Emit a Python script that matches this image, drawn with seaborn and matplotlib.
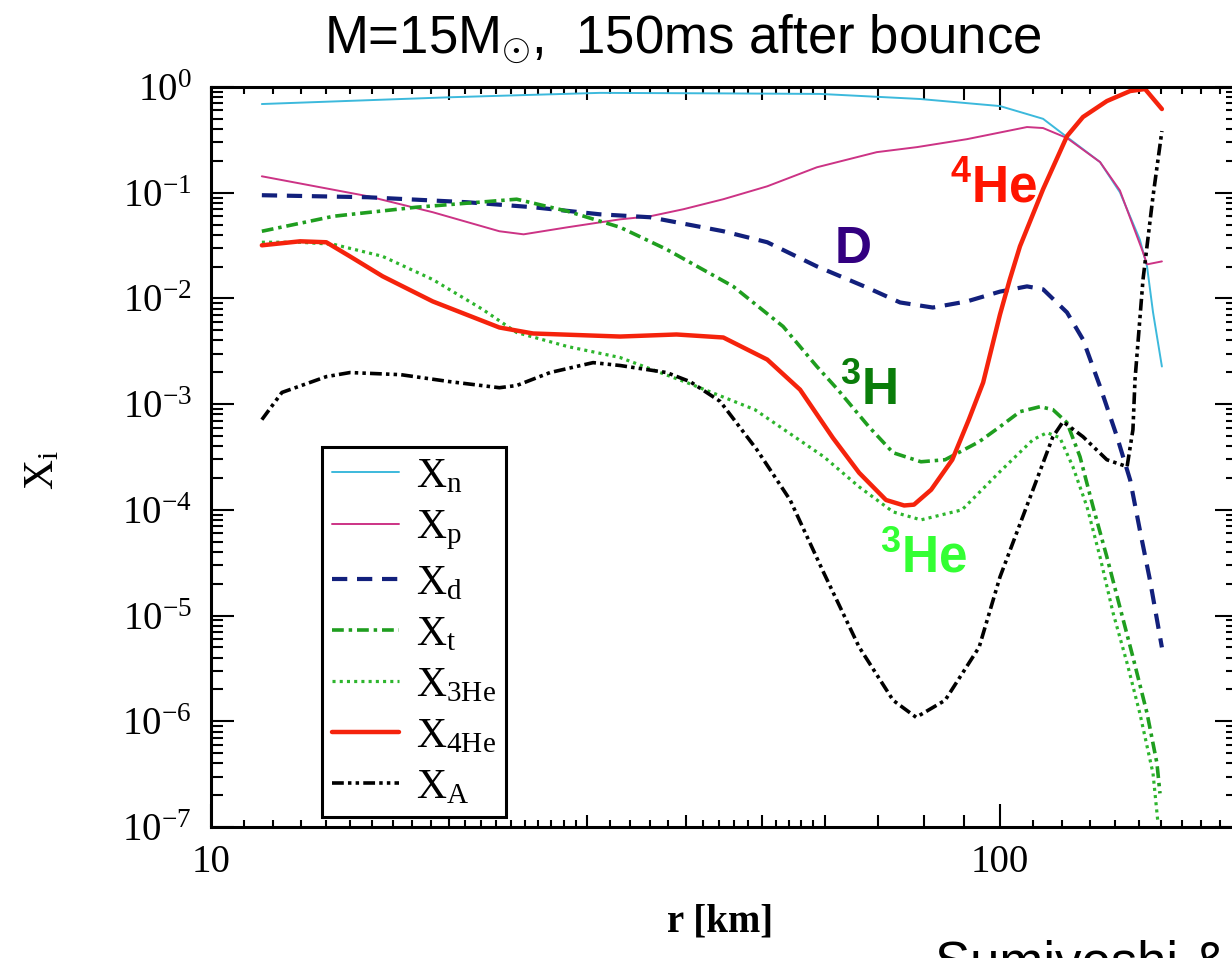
import pandas as pd
import matplotlib
matplotlib.use('Agg')
import matplotlib.pyplot as plt
import matplotlib.ticker as mticker
import seaborn as sns

# ---- mass fractions vs radius (r in km) ----
r_n = [11.6, 20.1, 31.1, 44.6, 59.2, 79.2, 100, 113.4, 121.6, 133.9, 141.9, 150.4, 153.6, 156.3, 160.4]
X_n = [0.69, 0.80, 0.88, 0.87, 0.86, 0.77, 0.66, 0.50, 0.336, 0.195, 0.101, 0.036, 0.020, 0.0074, 0.00227]

r_p = [11.6, 15.8, 19.1, 23.2, 24.9, 28.3, 33.0, 36.0, 39.7, 44.6, 50.7, 58.6, 69.8, 78.5, 90.8,
       108.2, 113.4, 121.6, 133.9, 141.9, 151.8, 153.6, 160.4]
X_p = [0.143, 0.0927, 0.0654, 0.0432, 0.0404, 0.0471, 0.056, 0.0598, 0.0698, 0.0868, 0.115, 0.174,
       0.242, 0.27, 0.321, 0.418, 0.409, 0.329, 0.195, 0.105, 0.0273, 0.021, 0.0224]

r_d = [11.6, 15.8, 21.1, 25.6, 31.1, 36.0, 44.6, 50.7, 58.6, 67.8, 74.7, 82.2, 90.8, 100, 108.2,
       113.4, 121.6, 127.4, 133.9, 140.7, 146.2, 150.4, 154.9, 160.4]
X_d = [0.0947, 0.0906, 0.0813, 0.0729, 0.0625, 0.0586, 0.0432, 0.034, 0.0201, 0.0127, 0.00916,
       0.0082, 0.00937, 0.0116, 0.013, 0.0122, 0.00737, 0.00409, 0.00147, 4.92e-4, 1.92e-4,
       6.46e-5, 2.17e-5, 5.0e-6]

r_t = [11.6, 14.3, 18.2, 24.4, 28.3, 33.0, 37.8, 45.9, 53.1, 58.6, 62.3, 68.2, 73.2, 79.4, 85.2,
       94.1, 100, 106, 112.4, 116.7, 121.6, 126.3, 131.2, 136.6, 141.9, 147.4, 153.6, 158.1, 159.5]
X_t = [0.0432, 0.0599, 0.0729, 0.0868, 0.0668, 0.0471, 0.0291, 0.013, 0.00543, 0.00227, 1.37e-3,
       6.12e-4, 3.47e-4, 2.85e-4, 2.98e-4, 4.41e-4, 6.12e-4, 8.49e-4, 9.46e-4, 8.87e-4, 6.68e-4,
       3.18e-4, 1.07e-4, 3.59e-5, 1.2e-5, 4.05e-6, 1.19e-6, 4.0e-7, 2.08e-7]

r_3he = [11.6, 12.97, 14.3, 16.5, 19.1, 22.1, 24.4, 28.3, 33.0, 40.1, 48.9, 59.8, 66.3, 73.2, 79.4,
         89.5, 100, 110.1, 114.7, 119.1, 123.7, 128.9, 133.9, 139.1, 144.9, 150.4, 156.3, 158.6]
X_3he = [0.034, 0.034, 0.0325, 0.025, 0.0151, 0.00787, 0.00476, 0.00351, 0.00276, 0.0016, 8.87e-4,
         3.18e-4, 1.65e-4, 9.57e-5, 8.04e-5, 1.0e-4, 2.3e-4, 4.61e-4, 5.37e-4, 4.81e-4, 2.56e-4,
         1.07e-4, 3.59e-5, 1.06e-5, 3.55e-6, 1.19e-6, 3.21e-7, 1.08e-7]

r_4he = [11.6, 12.97, 14.0, 15.0, 16.5, 19.1, 23.2, 25.6, 33.0, 38.9, 44.6, 50.7, 55.8, 61.4, 66.3,
         71.7, 75.6, 77.8, 81.8, 87.0, 91.3, 95.2, 100, 102.9, 106, 113.4, 121.6, 127.4, 136.6,
         146.2, 152.7, 160.4]
X_4he = [0.0318, 0.0347, 0.034, 0.025, 0.0162, 0.00937, 0.00531, 0.00466, 0.00436, 0.00456,
         0.00427, 0.00264, 0.00137, 4.8e-4, 2.24e-4, 1.24e-4, 1.1e-4, 1.12e-4, 1.55e-4, 2.98e-4,
         7.13e-4, 1.6e-3, 7.05e-3, 0.0151, 0.0311, 0.108, 0.343, 0.52, 0.736, 0.916, 0.957, 0.619]

r_A = [11.6, 12.3, 14.0, 15.0, 17.4, 20.1, 23.2, 24.4, 26.9, 30.5, 33.0, 37.8, 40.5, 44.2, 49.2,
       54.2, 59.8, 66.3, 73.2, 78.3, 85.2, 94.1, 100, 110.1, 116.7, 120.2, 127.4, 136.6, 144.9,
       147.4, 148.3, 151.8, 156.3, 160.4]
X_A = [7.13e-4, 1.29e-3, 1.82e-3, 1.99e-3, 1.9e-3, 1.63e-3, 1.43e-3, 1.5e-3, 1.99e-3, 2.47e-3,
       2.32e-3, 1.99e-3, 1.63e-3, 1.06e-3, 3.7e-4, 1.24e-4, 2.53e-5, 5.03e-6, 1.58e-6, 1.09e-6,
       1.58e-6, 5.03e-6, 2.32e-5, 1.55e-4, 4.92e-4, 6.82e-4, 4.92e-4, 2.98e-4, 2.56e-4, 5.73e-4,
       1.71e-3, 0.0151, 0.0927, 0.383]

legend_labels = [r'$\mathrm{X_n}$', r'$\mathrm{X_p}$', r'$\mathrm{X_d}$', r'$\mathrm{X_t}$',
                 r'$\mathrm{X_{3He}}$', r'$\mathrm{X_{4He}}$', r'$\mathrm{X_A}$']

# ---- style ----
sns.set_style('ticks')
plt.rcParams['font.family'] = ['Liberation Serif', 'DejaVu Serif']
plt.rcParams['mathtext.fontset'] = 'custom'
plt.rcParams['mathtext.rm'] = 'Liberation Serif'
plt.rcParams['mathtext.it'] = 'Liberation Serif:italic'
plt.rcParams['mathtext.bf'] = 'Liberation Sans:bold'
plt.rcParams['mathtext.sf'] = 'Liberation Sans'
plt.rcParams['axes.unicode_minus'] = False
plt.rcParams['lines.scale_dashes'] = False
for key in ['text.color', 'axes.labelcolor', 'xtick.color', 'ytick.color', 'axes.edgecolor']:
    plt.rcParams[key] = 'black'

fig = plt.figure(figsize=(12.32, 9.58), dpi=100)
ax = fig.add_axes([211 / 1232, 1 - 827 / 958, (1237.5 - 211) / 1232, (827 - 87) / 958])
ax.set_xscale('log')
ax.set_yscale('log')

series = [
    (r_n, X_n, '#3cb9dc', 1.4, '-'),
    (r_p, X_p, '#cc3385', 1.4, '-'),
    (r_d, X_d, '#12207c', 3.0, (0, (11, 7))),
    (r_t, X_t, '#1f9e1f', 2.6, (0, (8.5, 3.5, 2.5, 3.5))),
    (r_3he, X_3he, '#2db52d', 2.3, (0, (2.2, 3))),
    (r_4he, X_4he, '#f5230c', 3.2, '-'),
    (r_A, X_A, '#000000', 2.6, (0, (8.5, 3, 2.5, 3, 2.5, 3))),
]

for (r, x, color, lw, ls), lab in zip(series, legend_labels):
    df = pd.DataFrame({'r': r, 'X': x})
    sns.lineplot(data=df, x='r', y='X', ax=ax, color=color, linewidth=lw, linestyle=ls,
                 estimator=None, sort=False, label=lab)

ax.set_xlim(10, 200)
ax.set_ylim(1e-7, 1)

# x ticks: long at decades, medium every 10, short in between
x_major = [10, 20, 30, 40, 50, 60, 70, 80, 90, 100]
x_major_lab = ['10', '', '', '', '', '', '', '', '', '100']
x_minor = (list(range(11, 20)) + list(range(21, 30)) + list(range(32, 40, 2)) +
           list(range(42, 50, 2)) + list(range(52, 60, 2)) + list(range(110, 200, 10)))
ax.xaxis.set_major_locator(mticker.FixedLocator(x_major))
ax.xaxis.set_major_formatter(mticker.FixedFormatter(x_major_lab))
ax.xaxis.set_minor_locator(mticker.FixedLocator(x_minor))
ax.xaxis.set_minor_formatter(mticker.NullFormatter())

ax.yaxis.set_major_locator(mticker.LogLocator(base=10, numticks=20))
ax.yaxis.set_minor_locator(mticker.LogLocator(base=10, subs=range(2, 10), numticks=20))
ax.yaxis.set_minor_formatter(mticker.NullFormatter())

ax.tick_params(which='both', direction='in', top=True, right=True, width=1.5, color='black')
ax.tick_params(axis='x', which='major', length=9, pad=12, labelsize=28)
ax.tick_params(axis='x', which='minor', length=5)
ax.tick_params(axis='y', which='major', length=16.5, pad=14, labelsize=28)
ax.tick_params(axis='y', which='minor', length=8.6)
for spine in ax.spines.values():
    spine.set_linewidth(2.2)
    spine.set_color('black')

xt = ax.xaxis.get_major_ticks()
for t in (xt[0], xt[-1]):
    t.tick1line.set_markersize(16.5)
    t.tick2line.set_markersize(16.5)

ax.set_xlabel('r [km]', fontsize=28, fontweight='bold')
ax.xaxis.set_label_coords(0.496, -0.103)
ax.set_ylabel(r'$\mathrm{X_i}$', fontsize=30)
ax.yaxis.set_label_coords(-0.145, 0.482)

leg = ax.legend(loc='upper left', bbox_to_anchor=(0.108, 0.5135), borderaxespad=0,
                fontsize=30, handlelength=1.6, handletextpad=0.4, labelspacing=0.3,
                borderpad=0.25, frameon=True, fancybox=False, edgecolor='black', framealpha=1)
leg.get_frame().set_linewidth(2.2)

# species labels
lab_kw = dict(fontsize=37, fontweight='bold', family='Liberation Sans', ha='left', va='baseline')
ax.text(86.4, 0.0813, r'$\mathbf{^{4}}$He', color='#ff1400', **lab_kw)
ax.text(61.8, 0.0215, 'D', color='#330080', **lab_kw)
ax.text(62.7, 9.9e-4, r'$\mathbf{^{3}}$H', color='#0a7d0a', **lab_kw)
ax.text(70.5, 2.58e-5, r'$\mathbf{^{3}}$He', color='#33ff33', **lab_kw)

fig.text(683 / 1232, 1 - 53 / 958, r'M=15M$_{\odot}$,  150ms after bounce', ha='center',
         va='baseline', fontsize=38, family='Liberation Sans', color='black')
fig.text(935 / 1232, 1 - 940 / 958, 'Sumiyoshi &', ha='left', va='top', fontsize=38,
         family='Liberation Sans', color='black')

fig.savefig('out.png', dpi=100)
